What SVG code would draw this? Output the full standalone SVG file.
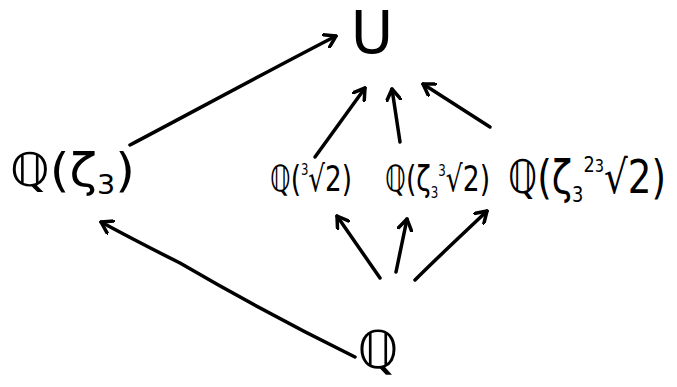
<svg xmlns="http://www.w3.org/2000/svg" width="677" height="387" viewBox="0 0 677 387">
<style>
.t{font-family:"DejaVu Sans","Noto Sans",sans-serif;fill:#000}
.c{fill:none;stroke:#000;stroke-width:3.5;stroke-linecap:round;stroke-linejoin:round}
</style>
<defs>
<marker id="ah" viewBox="-12 -8 14 16" refX="0" refY="0" markerWidth="14" markerHeight="16" markerUnits="userSpaceOnUse" orient="auto">
<path d="M-11,-7 L0,0 L-11,7" fill="none" stroke="#000" stroke-width="3.5" stroke-linecap="round" stroke-linejoin="round"/>
</marker>
</defs>
<rect width="677" height="387" fill="#fff"/>
<g id="connectors">
<path class="c" marker-end="url(#ah)" d="M130,145 C200,108 270,70 336,36"/>
<path class="c" marker-end="url(#ah)" d="M355,357 C300,330 240,298 180,263 C150,248 125,235 101,222"/>
<path class="c" marker-end="url(#ah)" d="M315,157 L365,88"/>
<path class="c" marker-end="url(#ah)" d="M400,142 L392,89"/>
<path class="c" marker-end="url(#ah)" d="M490,127 L423,84"/>
<path class="c" marker-end="url(#ah)" d="M380,278 L337,216"/>
<path class="c" marker-end="url(#ah)" d="M396,272 L407,219"/>
<path class="c" marker-end="url(#ah)" d="M415,280 C440,255 465,232 487,211"/>
</g>
<g id="U"><text class="t" x="372" y="53" font-size="58" text-anchor="middle">U</text></g>
<g id="Qzeta3"><text class="t" x="10" y="186" font-size="46" textLength="125" lengthAdjust="spacingAndGlyphs">ℚ(ζ<tspan font-size="26" dy="8">3</tspan><tspan dy="-8">)</tspan></text></g>
<g id="Qcbrt2"><text class="t" x="270" y="191" font-size="36" textLength="82" lengthAdjust="spacingAndGlyphs">ℚ(<tspan font-size="16" dy="-16">3</tspan><tspan dy="16">√2)</tspan></text></g>
<g id="Qzeta3cbrt2"><text class="t" x="385" y="191" font-size="36" textLength="105" lengthAdjust="spacingAndGlyphs">ℚ(ζ<tspan font-size="16" dy="7">3</tspan><tspan font-size="16" dy="-22">3</tspan><tspan dy="15">√2)</tspan></text></g>
<g id="Qzeta3sq"><text class="t" x="508" y="193" font-size="46" textLength="158" lengthAdjust="spacingAndGlyphs">ℚ(ζ<tspan font-size="22" dy="9">3</tspan><tspan font-size="22" dy="-30">2</tspan><tspan font-size="18" dy="0">3</tspan><tspan dy="21">√2)</tspan></text></g>
<g id="Q"><text class="t" x="378" y="368" font-size="52" text-anchor="middle">ℚ</text></g>
</svg>
